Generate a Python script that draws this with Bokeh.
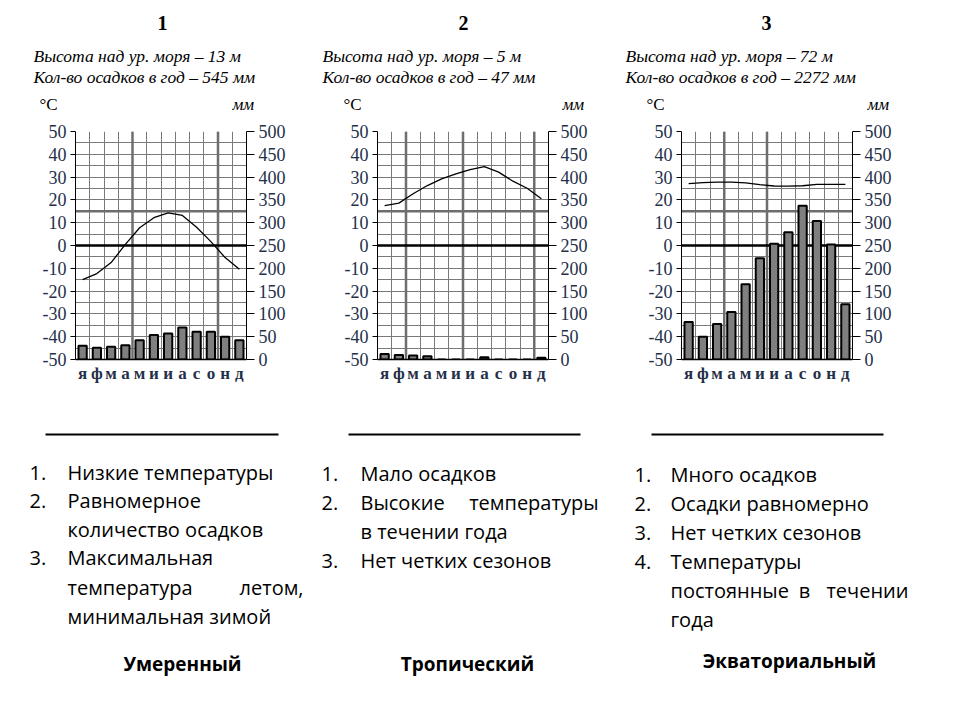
from bokeh.plotting import figure
from bokeh.models import Range1d, LinearAxis, FixedTicker, Span, Grid, ColumnDataSource
from bokeh.layouts import column, row
from bokeh.embed import file_html
from bokeh.resources import INLINE
from bokeh.core.properties import value

# ---------------- data ----------------
months = ["я", "ф", "м", "а", "м", "и", "и", "а", "с", "о", "н", "д"]
month_idx = list(range(12))

temp1 = [-15, -12.3, -7.5, 0.5, 7.8, 12.2, 14.3, 13.2, 8, 1.7, -5.3, -10.4]
precip1 = [30, 26, 28, 31, 42, 54, 57, 70, 61, 61, 50, 42]

temp2 = [17.5, 18.6, 22.7, 26.3, 29.2, 31.4, 33.3, 34.6, 32.2, 28.2, 25.1, 20.5]
precip2 = [12, 10, 9, 7, 0, 0, 0, 5, 0, 0, 0, 4]

temp3 = [27.1, 27.6, 27.8, 27.8, 27.5, 26.7, 26.1, 26.0, 26.2, 26.8, 26.8, 26.8]
precip3 = [82, 50, 78, 104, 165, 222, 254, 279, 337, 304, 252, 121]

chart_numbers = ["1", "2", "3"]
altitudes = [13, 5, 72]
annual_precip = [545, 47, 2272]
temp_ticks = list(range(-50, 51, 10))
temp_tick_labels = {t: str(t) for t in temp_ticks}   # plain hyphen-minus as in the original
mm_ticks = list(range(0, 501, 50))

climates = ["Умеренный", "Тропический", "Экваториальный"]

SERIF = "Liberation Serif"
SANS = "Open Sans"
LABEL_COLOR = "#24304a"
GRID_COLOR = "#7a7a7a"


def make_chart(temps, precip, thick, left_border, right_border):
    p = figure(frame_width=171, frame_height=228,
               min_border_left=left_border, min_border_right=right_border,
               min_border_top=10, min_border_bottom=30,
               x_range=Range1d(-0.5, 11.5), y_range=Range1d(-50, 50),
               toolbar_location=None, output_backend="svg",
               x_axis_type=None, y_axis_type=None)
    p.extra_y_ranges = {"mm": Range1d(0, 500)}
    p.outline_line_color = None

    xg = Grid(dimension=0, ticker=FixedTicker(ticks=[i - 0.5 for i in range(13)]),
              grid_line_color=GRID_COLOR, grid_line_width=1)
    yg = Grid(dimension=1, ticker=FixedTicker(ticks=list(range(-50, 51, 5))),
              grid_line_color=GRID_COLOR, grid_line_width=1)
    p.add_layout(xg)
    p.add_layout(yg)

    for k in thick:
        p.add_layout(Span(location=k - 0.5, dimension="height", line_color="#6e6e6e",
                          line_width=2.5, level="underlay"))
    p.add_layout(Span(location=15, dimension="width", line_color="#6e6e6e",
                      line_width=2.5, level="underlay"))
    p.add_layout(Span(location=0, dimension="width", line_color="black",
                      line_width=2.5, level="underlay"))

    left = LinearAxis(ticker=FixedTicker(ticks=temp_ticks),
                      major_label_overrides=temp_tick_labels)
    right = LinearAxis(y_range_name="mm", ticker=FixedTicker(ticks=mm_ticks))
    for ax, out in ((left, 5), (right, 8)):
        ax.major_tick_out = out
        ax.major_tick_in = 0
        ax.minor_tick_out = 0
        ax.minor_tick_in = 0
        ax.axis_line_color = "black"
        ax.major_tick_line_color = "black"
        ax.major_label_text_font = SERIF
        ax.major_label_text_font_size = "18px"
        ax.major_label_text_color = LABEL_COLOR
        ax.major_label_standoff = 4
    p.add_layout(left, "left")
    p.add_layout(right, "right")

    bottom = LinearAxis(ticker=FixedTicker(ticks=month_idx),
                        major_label_overrides={i: m for i, m in enumerate(months)})
    bottom.major_tick_out = 0
    bottom.major_tick_in = 0
    bottom.minor_tick_out = 0
    bottom.axis_line_color = "black"
    bottom.axis_line_width = 1.5
    bottom.major_label_text_font = SERIF
    bottom.major_label_text_font_style = "bold"
    bottom.major_label_text_font_size = "17px"
    bottom.major_label_text_color = LABEL_COLOR
    bottom.major_label_standoff = 4
    p.add_layout(bottom, "below")

    src = ColumnDataSource(dict(x=month_idx, t=temps, p=precip))
    p.vbar(x="x", top="p", bottom=0, width=0.58, source=src, y_range_name="mm",
           fill_color="#7f7f7f", line_color="black", line_width=2)
    p.line(x="x", y="t", source=src, line_color="black", line_width=1.3)
    return p


c1 = make_chart(temp1, precip1, [4, 10], 75, 50)
c2 = make_chart(temp2, precip2, [2, 6, 11], 81, 50)
c3 = make_chart(temp3, precip3, [3, 6], 83, 100)

# ---------------- header ----------------
hdr = figure(width=952, height=121, x_range=Range1d(0, 952), y_range=Range1d(121, 0),
             min_border=0, toolbar_location=None, output_backend="svg",
             x_axis_type=None, y_axis_type=None)
hdr.outline_line_color = None
hdr.text(x=[162, 463, 766], y=[22, 22, 22], text=chart_numbers,
         text_font=value(SERIF), text_font_style="bold", text_font_size="20px",
         text_align="center", text_baseline="middle", text_color="black")
sub_x = [33, 322, 625]
line1 = [f"Высота над ур. моря – {a} м" for a in altitudes]
line2 = [f"Кол-во осадков в год – {v} мм" for v in annual_precip]
hdr.text(x=sub_x * 2, y=[55] * 3 + [76] * 3, text=line1 + line2,
         text_font=value(SERIF), text_font_style="italic", text_font_size="17.5px",
         text_align="left", text_baseline="middle", text_color="black")
hdr.text(x=[39, 343, 646], y=[104] * 3, text=["°C"] * 3,
         text_font=value(SERIF), text_font_size="17px",
         text_align="left", text_baseline="middle", text_color="black")
hdr.text(x=[232, 562, 867], y=[104] * 3, text=["мм"] * 3,
         text_font=value(SERIF), text_font_style="italic", text_font_size="17px",
         text_align="left", text_baseline="middle", text_color="black")

# ---------------- bottom text ----------------
bot = figure(width=952, height=323, x_range=Range1d(0, 952), y_range=Range1d(712, 389),
             min_border=0, toolbar_location=None, output_backend="svg",
             x_axis_type=None, y_axis_type=None)
bot.outline_line_color = None
bot.segment(x0=[45, 348, 651], y0=[434] * 3, x1=[278, 580, 883], y1=[434] * 3,
            line_color="black", line_width=2)

left_items = [
    (29, 472, "1."), (67, 472, "Низкие температуры"),
    (29, 500, "2."), (67, 500, "Равномерное"),
    (67, 529, "количество осадков"),
    (29, 557, "3."), (67, 557, "Максимальная"),
    (67, 587, "температура"),
    (67, 616, "минимальная зимой"),
    (321, 473, "1."), (360, 473, "Мало осадков"),
    (321, 502, "2."), (360, 502, "Высокие"),
    (360, 531, "в течении года"),
    (321, 560, "3."), (360, 560, "Нет четких сезонов"),
    (634, 474, "1."), (670, 474, "Много  осадков"),
    (634, 503, "2."), (670, 503, "Осадки равномерно"),
    (634, 532, "3."), (670, 532, "Нет четких сезонов"),
    (634, 561, "4."), (670, 561, "Температуры"),
    (670, 590, "постоянные"),
    (670, 619, "года"),
]
right_items = [(303, 587, "летом,"), (598, 502, "температуры"), (908, 590, "течении")]
center_items = [(804, 590, "в")]

for items, align in ((left_items, "left"), (right_items, "right"), (center_items, "center")):
    bot.text(x=[a[0] for a in items], y=[a[1] for a in items], text=[a[2] for a in items],
             text_font=value(SANS), text_font_size="20px", text_align=align,
             text_baseline="middle", text_color="black")

bot.text(x=[182, 467, 789], y=[663, 663, 660], text=climates,
         text_font=value(SANS), text_font_style="bold", text_font_size="19px",
         text_align="center", text_baseline="middle", text_color="black")

layout = column(hdr, row(c1, c2, c3), bot)

open("out.html", "w").write(file_html(layout, INLINE))
